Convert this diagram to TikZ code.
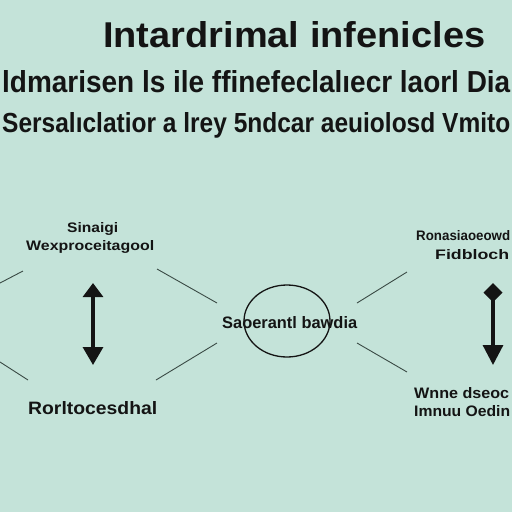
\documentclass[tikz,border=0pt]{standalone}
\usepackage{fontspec}
\setmainfont{Liberation Sans}
\usetikzlibrary{arrows.meta,shapes.geometric}
\definecolor{bg}{HTML}{C4E3D9}
\definecolor{ink}{HTML}{141414}
\definecolor{wirec}{HTML}{3A4A45}
\newcommand{\fitbox}[3]{\resizebox{#1}{#2}{#3}}
\begin{document}
\begin{tikzpicture}[x=1pt,y=-1pt,
  txt/.style={inner sep=0pt, anchor=base west, text=ink, font=\bfseries},
  wire/.style={draw=wirec, line width=0.9pt},
  dblarrow/.style={draw=ink, line width=3.2pt}]
\useasboundingbox (0,0) rectangle (512,512);
\fill[bg] (0,0) rectangle (512,512);
\clip (0,0) rectangle (512,512);

% heading lines
\node[txt] (title) at (103,47) {\fitbox{382pt}{26pt}{Intardrimal infenicles}};
\node[txt] (sub1) at (2,92) {\fitbox{508pt}{22pt}{ldmarisen ls ile ffinefeclalıecr laorl Dia}};
\node[txt] (sub2) at (2,132) {\fitbox{508pt}{20pt}{Sersalıclatior a lrey 5ndcar aeuiolosd Vmito}};

% left labels
\node[txt] (lt1) at (67,232) {\fitbox{51pt}{10pt}{Sinaigi}};
\node[txt] (lt2) at (26,250) {\fitbox{128pt}{10pt}{Wexproceitagool}};
\node[txt] (lb) at (28,414) {\fitbox{129pt}{13pt}{Rorltocesdhal}};

% centre
\node[draw=ink, line width=1.3pt, ellipse, minimum width=86pt, minimum height=72pt, inner sep=0pt] (hub) at (287,321) {};
\node[txt] (hubtxt) at (222,328) {\fitbox{135pt}{12pt}{Saoerantl bawdia}};

% right labels
\node[txt] (rt1) at (416,240) {\fitbox{94pt}{10pt}{Ronasiaoeowd}};
\node[txt] (rt2) at (435,259) {\fitbox{74pt}{10pt}{Fidbloch}};
\node[txt] (rb1) at (414,398) {\fitbox{95pt}{11pt}{Wnne dseoc}};
\node[txt] (rb2) at (414,416) {\fitbox{96pt}{11pt}{Imnuu Oedin}};

% connector end points
\coordinate (a1) at (0,283);   \coordinate (a2) at (23,271);
\coordinate (b1) at (0,362);   \coordinate (b2) at (28,380);
\coordinate (c1) at (157,269); \coordinate (c2) at (217,303);
\coordinate (d1) at (156,380); \coordinate (d2) at (217,343);
\coordinate (e1) at (357,303); \coordinate (e2) at (407,272);
\coordinate (f1) at (357,343); \coordinate (f2) at (407,372);
\draw[wire] (a1) -- (a2);
\draw[wire] (b1) -- (b2);
\draw[wire] (c1) -- (c2);
\draw[wire] (d1) -- (d2);
\draw[wire] (e1) -- (e2);
\draw[wire] (f1) -- (f2);

% vertical arrows
\coordinate (la1) at (93,283); \coordinate (la2) at (93,365);
\coordinate (ra1) at (493,283); \coordinate (ra2) at (493,365);
\draw[dblarrow, {Triangle[width=20pt,length=14pt]}-{Triangle[width=20pt,length=18pt]}] (la1) -- (la2);
\draw[dblarrow, {Turned Square[width=19pt,length=19pt]}-{Triangle[width=20pt,length=20pt]}] (ra1) -- (ra2);
\end{tikzpicture}
\end{document}
